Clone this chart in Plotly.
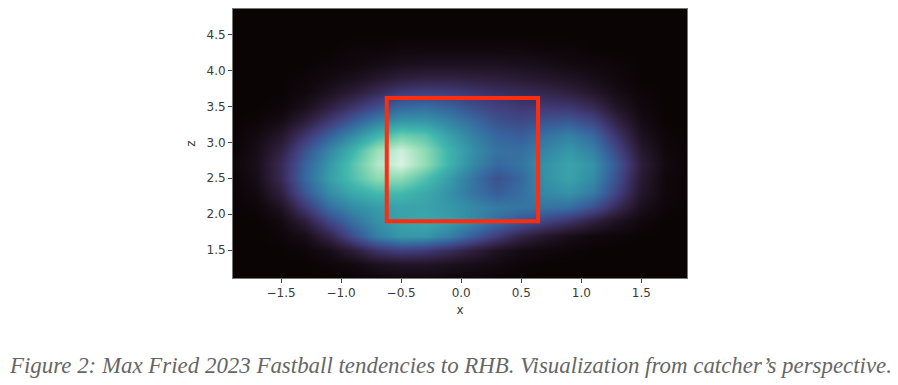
import plotly.graph_objects as go

# Grid of estimated density values, normalised 0..1
x_vals = [-1.9, -1.7, -1.5, -1.3, -1.1, -0.9, -0.7, -0.5, -0.3, -0.1,
          0.1, 0.3, 0.5, 0.7, 0.9, 1.1, 1.3, 1.5, 1.7, 1.9]
z_vals = [1.1, 1.3, 1.5, 1.7, 1.9, 2.1, 2.3, 2.5, 2.7, 2.9,
          3.1, 3.3, 3.5, 3.7, 3.9, 4.1, 4.3, 4.5, 4.7, 4.9]

row_z11 = [0, 0, 0, 0, 0, 0, 0.01, 0.02, 0.02, 0.01, 0.01, 0, 0, 0, 0, 0, 0, 0, 0, 0]
row_z13 = [0, 0, 0, 0, 0.01, 0.03, 0.07, 0.09, 0.09, 0.07, 0.05, 0.03, 0.01, 0, 0, 0, 0, 0, 0, 0]
row_z15 = [0, 0, 0, 0.01, 0.05, 0.14, 0.25, 0.3, 0.28, 0.22, 0.15, 0.08, 0.04, 0.02, 0.01, 0, 0, 0, 0, 0]
row_z17 = [0, 0, 0.01, 0.05, 0.17, 0.35, 0.52, 0.6, 0.6, 0.52, 0.4, 0.28, 0.17, 0.1, 0.05, 0.02, 0.01, 0, 0, 0]
row_z19 = [0, 0, 0.03, 0.14, 0.32, 0.47, 0.58, 0.64, 0.66, 0.62, 0.55, 0.46, 0.38, 0.31, 0.24, 0.15, 0.07, 0.02, 0, 0]
row_z21 = [0, 0.01, 0.08, 0.27, 0.46, 0.56, 0.62, 0.64, 0.64, 0.6, 0.55, 0.5, 0.48, 0.48, 0.46, 0.36, 0.2, 0.06, 0.01, 0]
row_z23 = [0, 0.03, 0.15, 0.38, 0.56, 0.66, 0.72, 0.72, 0.66, 0.58, 0.48, 0.4, 0.46, 0.55, 0.58, 0.5, 0.3, 0.1, 0.02, 0]
row_z25 = [0, 0.05, 0.2, 0.44, 0.62, 0.75, 0.86, 0.86, 0.75, 0.62, 0.48, 0.36, 0.44, 0.58, 0.64, 0.56, 0.35, 0.12, 0.02, 0]
row_z27 = [0.01, 0.06, 0.2, 0.42, 0.6, 0.76, 0.92, 0.99, 0.87, 0.7, 0.55, 0.44, 0.48, 0.58, 0.64, 0.58, 0.38, 0.14, 0.03, 0]
row_z29 = [0, 0.05, 0.16, 0.36, 0.54, 0.7, 0.88, 0.97, 0.86, 0.7, 0.57, 0.47, 0.46, 0.54, 0.6, 0.52, 0.32, 0.11, 0.02, 0]
row_z31 = [0, 0.03, 0.1, 0.25, 0.41, 0.56, 0.7, 0.8, 0.76, 0.63, 0.52, 0.43, 0.4, 0.47, 0.52, 0.44, 0.24, 0.07, 0.01, 0]
row_z33 = [0, 0.01, 0.04, 0.14, 0.27, 0.4, 0.52, 0.6, 0.6, 0.53, 0.45, 0.36, 0.33, 0.37, 0.39, 0.32, 0.16, 0.04, 0, 0]
row_z35 = [0, 0, 0.01, 0.06, 0.15, 0.25, 0.35, 0.44, 0.46, 0.42, 0.35, 0.3, 0.27, 0.27, 0.26, 0.2, 0.09, 0.02, 0, 0]
row_z37 = [0, 0, 0, 0.02, 0.07, 0.13, 0.2, 0.27, 0.29, 0.28, 0.25, 0.22, 0.2, 0.18, 0.15, 0.1, 0.04, 0.01, 0, 0]
row_z39 = [0, 0, 0, 0.01, 0.03, 0.06, 0.1, 0.14, 0.16, 0.16, 0.15, 0.14, 0.12, 0.1, 0.08, 0.05, 0.02, 0, 0, 0]
row_z41 = [0, 0, 0, 0, 0.01, 0.02, 0.04, 0.06, 0.07, 0.07, 0.07, 0.07, 0.06, 0.05, 0.03, 0.02, 0.01, 0, 0, 0]
row_z43 = [0, 0, 0, 0, 0, 0.01, 0.01, 0.02, 0.02, 0.02, 0.02, 0.02, 0.02, 0.01, 0.01, 0, 0, 0, 0, 0]
row_z45 = [0] * 20
row_z47 = [0] * 20
row_z49 = [0] * 20

density = [row_z11, row_z13, row_z15, row_z17, row_z19, row_z21, row_z23,
           row_z25, row_z27, row_z29, row_z31, row_z33, row_z35, row_z37,
           row_z39, row_z41, row_z43, row_z45, row_z47, row_z49]

# Strike zone bounds
zone_x = [-0.62, 0.64]
zone_z = [1.9, 3.62]

x_ticks = [-1.5, -1.0, -0.5, 0.0, 0.5, 1.0, 1.5]
z_ticks = [1.5, 2.0, 2.5, 3.0, 3.5, 4.0, 4.5]

caption = "Figure 2: Max Fried 2023 Fastball tendencies to RHB. Visualization from catcher\u2019s perspective."

mako = [
    [0.0, "#0B0405"],
    [0.143, "#2E1E3B"],
    [0.286, "#413D7B"],
    [0.429, "#37659E"],
    [0.571, "#348FA7"],
    [0.714, "#40B7AD"],
    [0.857, "#8BDAB2"],
    [1.0, "#DEF5E5"],
]

fig = go.Figure()
fig.add_trace(go.Heatmap(
    x=x_vals, y=z_vals, z=density,
    colorscale=mako, zmin=0, zmax=1, zsmooth="best",
    showscale=False, hoverinfo="skip",
))

fig.add_shape(type="rect", xref="x", yref="y",
              x0=zone_x[0], x1=zone_x[1], y0=zone_z[0], y1=zone_z[1],
              line=dict(color="#ff2d0f", width=4))

axis_font = dict(family="DejaVu Sans", size=12, color="#3a3a3a")

fig.update_xaxes(range=[-1.9, 1.88], tickvals=x_ticks,
                 ticktext=[f"{v:.1f}".replace("-", "\u2212") for v in x_ticks],
                 ticks="outside", ticklen=4, tickcolor="#444", tickwidth=1,
                 showline=True, linecolor="#777", linewidth=1, mirror=True,
                 showgrid=False, zeroline=False, tickfont=axis_font,
                 title=dict(text="x", font=axis_font, standoff=6))
fig.update_yaxes(range=[1.11, 4.86], tickvals=z_ticks,
                 ticktext=[f"{v:.1f}" for v in z_ticks],
                 ticks="outside", ticklen=4, tickcolor="#444", tickwidth=1,
                 showline=True, linecolor="#777", linewidth=1, mirror=True,
                 showgrid=False, zeroline=False, tickfont=axis_font,
                 title=dict(text="z", font=axis_font, standoff=8))

fig.add_annotation(text="<i>" + caption + "</i>", xref="paper", yref="paper",
                   x=0.478, y=0.0, xanchor="center", yanchor="middle",
                   yshift=-87, showarrow=False,
                   font=dict(family="Liberation Serif", size=22.9, color="#666666"))

fig.update_layout(
    width=898, height=385,
    margin=dict(l=225, r=219, t=1, b=115),
    paper_bgcolor="white", plot_bgcolor="#0B0405",
    showlegend=False,
)

fig.write_html("out.html")
